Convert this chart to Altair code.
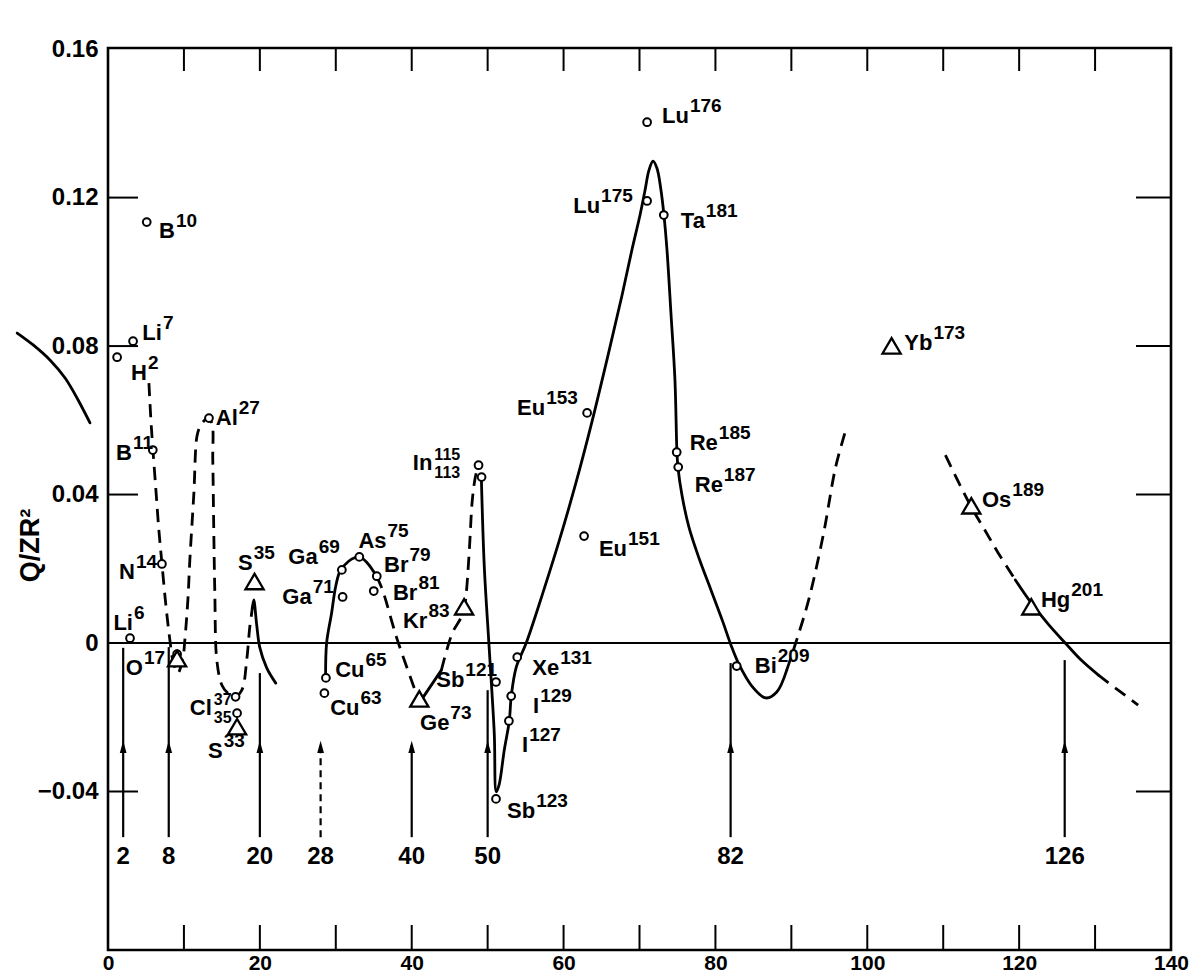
import altair as alt
import pandas as pd

FONT = "Liberation Sans"
W, H = 1063, 902

# ---------------- data ----------------
# open circles (measured nuclei)
circ_x = [1.2, 2.9, 3.3, 5.1, 5.9, 7.1, 9.1, 13.3, 16.8, 17.0, 28.7, 28.5, 30.8, 30.9, 33.1, 35.4, 35.0,
          48.8, 49.2, 51.1, 51.1, 52.8, 53.1, 53.9, 62.7, 63.1, 71.0, 71.0, 73.2, 74.9, 75.1, 82.8]
circ_y = [0.0770, 0.0013, 0.0813, 0.1134, 0.0520, 0.0213, -0.0030, 0.0606, -0.0145, -0.0189, -0.0094,
          -0.0135, 0.0197, 0.0124, 0.0232, 0.0180, 0.0140, 0.0479, 0.0447, -0.0105, -0.0420, -0.0210,
          -0.0143, -0.0038, 0.0288, 0.0620, 0.1191, 0.1403, 0.1153, 0.0514, 0.0474, -0.0062]

# open triangles
tri_x = [9.1, 17.0, 19.3, 41.0, 46.9, 103.2, 113.7, 121.6]
tri_y = [-0.0046, -0.0229, 0.0162, -0.0154, 0.0094, 0.0797, 0.0366, 0.0094]

# solid curve pieces
L_x = [-11.96, -9.86, -7.62, -5.65, -4.08, -2.37]
L_y = [0.0835, 0.0803, 0.0762, 0.0714, 0.0660, 0.0593]
C_x = [18.93, 19.19, 19.59, 19.98, 20.90, 22.09]
C_y = [0.0081, 0.0116, 0.0048, -0.0011, -0.0067, -0.0108]
D1_x = [28.66, 28.79, 29.45, 29.97, 30.50, 31.15, 32.08, 33.13, 34.18, 35.36]
D1_y = [-0.0092, 0.0, 0.0081, 0.0151, 0.0191, 0.0210, 0.0226, 0.0232, 0.0215, 0.0180]
D3_x = [41.54, 43.91]
D3_y = [-0.0145, -0.0073]
E_x = [49.17, 49.56, 50.22, 50.87, 51.14, 51.53, 52.19, 52.85, 53.11, 53.77, 55.08, 57.18, 59.42,
       61.66, 63.76, 65.99, 67.70, 69.02, 70.07, 70.73, 71.25, 71.78, 72.30, 72.83, 73.22, 73.62,
       74.14, 74.67, 74.93, 75.06, 75.59, 76.51, 77.83, 79.41, 80.98, 82.04, 83.09, 84.80, 86.63,
       88.08, 89.39]
E_y = [0.0447, 0.0205, -0.0019, -0.0242, -0.0401, -0.0380, -0.0288, -0.0210, -0.0143, -0.0065, 0.0,
       0.0129, 0.0275, 0.0434, 0.0598, 0.0787, 0.0937, 0.1061, 0.1153, 0.1220, 0.1274, 0.1298, 0.1279,
       0.1220, 0.1153, 0.1059, 0.0889, 0.0708, 0.0514, 0.0474, 0.0399, 0.0312, 0.0229, 0.0143, 0.0057,
       -0.0005, -0.0057, -0.0116, -0.0148, -0.0132, -0.0073]
F2_x = [119.5, 121.6, 123.83, 126.07, 128.17, 130.41]
F2_y = [0.0170, 0.0108, 0.0051, 0.0, -0.0046, -0.0086]

# dashed curve pieces
B_x = [5.39, 5.65, 5.92, 6.31, 6.70, 7.10, 7.62, 8.15, 8.54, 9.20, 9.86, 10.12, 10.52, 10.78, 11.31,
       11.70, 12.09, 12.62, 13.15, 13.67, 13.80, 13.93, 14.07, 14.33, 14.99, 15.78, 16.70, 17.62, 18.27,
       18.67, 18.93]
B_y = [0.0700, 0.0601, 0.0520, 0.0412, 0.0304, 0.0215, 0.0102, 0.0008, -0.0046, -0.0081, -0.0040,
       0.0008, 0.0116, 0.0224, 0.0404, 0.0555, 0.0582, 0.0598, 0.0606, 0.0593, 0.0493, 0.0304, 0.0135,
       -0.0046, -0.0113, -0.0135, -0.0145, -0.0127, -0.0046, 0.0043, 0.0081]
D2_x = [35.36, 36.15, 37.99, 39.96, 40.75]
D2_y = [0.0180, 0.0143, 0.0016, -0.0100, -0.0145]
D4_x = [43.91, 45.35, 46.54, 46.93, 47.19, 47.59, 47.98, 48.38, 48.77]
D4_y = [-0.0073, 0.0027, 0.0070, 0.0094, 0.0135, 0.0251, 0.0385, 0.0447, 0.0479]
E2_x = [89.39, 90.57, 92.28, 94.25, 95.83, 97.28]
E2_y = [-0.0073, 0.0, 0.0116, 0.0296, 0.0474, 0.0582]
F1_x = [110.29, 112.0, 113.71, 115.55, 117.26, 119.5]
F1_y = [0.0506, 0.0434, 0.0366, 0.0302, 0.0242, 0.0170]
F3_x = [130.41, 133.04, 135.67]
F3_y = [-0.0086, -0.0127, -0.0167]

# magic numbers (arrows)
magic = [2, 8, 20, 28, 40, 50, 82, 126]
magic_top = [-0.0013, -0.0011, -0.0081, -0.0275, -0.0275, -0.0127, -0.0054, -0.0046]
magic_dashed = [False, False, False, True, False, False, False, False]
arrow_bottom = -0.0523
arrow_head_y = -0.028
magic_label_y = -0.0576

# isotope labels: junction between symbol and mass number
lab_x = [8.81, 7.10, 5.13, 3.16, 3.55, 3.29, 4.60, 17.09, 19.06, 15.12, 33.78, 33.13, 27.61, 26.82,
         36.68, 39.57, 40.75, 42.07, 44.96, 46.93, 56.26, 55.34, 56.79, 59.42, 68.36, 57.58, 76.51,
         64.81, 78.61, 80.32, 80.98, 88.08, 108.58, 118.97, 126.73]
lab_y = [0.1091, 0.0816, 0.0708, 0.0493, 0.0172, 0.0035, -0.0086, 0.0587, 0.0197, -0.0310, -0.0092,
         -0.0194, 0.0213, 0.0105, 0.0256, 0.0191, 0.0116, 0.0040, -0.0234, -0.0119, -0.0471, -0.0294,
         -0.0188, -0.0086, 0.0234, 0.0614, 0.1401, 0.1158, 0.1118, 0.0520, 0.0407, -0.0081, 0.0789,
         0.0366, 0.0097]
lab_base = ["B", "Li", "H", "B", "N", "Li", "O", "Al", "S", "S", "Cu", "Cu", "Ga", "Ga", "As", "Br", "Br",
            "Kr", "Ge", "Sb", "Sb", "I", "I", "Xe", "Eu", "Eu", "Lu", "Lu", "Ta", "Re", "Re", "Bi", "Yb",
            "Os", "Hg"]
lab_sup = ["10", "7", "2", "11", "14", "6", "17", "27", "35", "33", "65", "63", "69", "71", "75", "79",
           "81", "83", "73", "121", "123", "127", "129", "131", "151", "153", "176", "175", "181", "185",
           "187", "209", "173", "189", "201"]

# labels with both a superscript and a subscript
stk_x = [13.67, 42.72]
stk_y = [-0.0194, 0.0466]
stk_base = ["Cl", "In"]
stk_sup = ["37", "115"]
stk_sub = ["35", "113"]

x_tick_vals = [10, 20, 30, 40, 50, 60, 70, 80, 90, 100, 110, 120, 130]
y_tick_vals = [0.12, 0.08, 0.04, -0.04]
x_label_vals = [0, 20, 40, 60, 80, 100, 120, 140]
y_label_vals = [0.16, 0.12, 0.08, 0.04, 0, -0.04]

# ---------------- tables ----------------
def seg(name, xs, ys):
    return pd.DataFrame({"x": xs, "y": ys, "seg": name, "i": list(range(len(xs)))})

solid_df = pd.concat([seg("L", L_x, L_y), seg("C", C_x, C_y), seg("D1", D1_x, D1_y),
                      seg("D3", D3_x, D3_y), seg("E", E_x, E_y), seg("F2", F2_x, F2_y)])
dashed_df = pd.concat([seg("B", B_x, B_y), seg("D2", D2_x, D2_y), seg("D4", D4_x, D4_y),
                       seg("E2", E2_x, E2_y), seg("F1", F1_x, F1_y), seg("F3", F3_x, F3_y)])
circ_df = pd.DataFrame({"x": circ_x, "y": circ_y})
tri_df = pd.DataFrame({"x": tri_x, "y": tri_y})
arrow_df = pd.DataFrame({"x": magic, "top": magic_top, "bot": arrow_bottom, "head": arrow_head_y,
                         "lab": [str(m) for m in magic], "laby": magic_label_y, "dashed": magic_dashed})
lab_df = pd.DataFrame({"x": lab_x, "y": lab_y, "base": lab_base, "sup": lab_sup})
stk_df = pd.DataFrame({"x": stk_x, "y": stk_y, "base": stk_base, "sup": stk_sup, "sub": stk_sub})
xt_df = pd.DataFrame({"x": x_tick_vals})
yt_df = pd.DataFrame({"y": y_tick_vals})
zero_df = pd.DataFrame({"y": [0.0]})

# ---------------- scales & axes ----------------
xscale = alt.Scale(domain=[0, 140], nice=False, zero=False)
yscale = alt.Scale(domain=[-0.0827, 0.1603], nice=False, zero=False)
xaxis = alt.Axis(values=x_label_vals, ticks=False, domain=False, grid=False, labelFont=FONT,
                 labelFontSize=21, labelFontWeight="bold", labelColor="black", labelPadding=2,
                 labelFlush=False, labelOverlap=False, title=None)
yaxis = alt.Axis(values=y_label_vals, ticks=False, domain=False, grid=False, labelFont=FONT,
                 labelFontSize=24, labelFontWeight="bold", labelColor="black", labelPadding=10,
                 labelFlush=False, labelOverlap=False,
                 labelExpr="datum.value == 0 ? '0' : format(datum.value, '.2f')",
                 title="Q/ZR²", titleAngle=270, titleX=-78, titleY=497, titleFont=FONT,
                 titleFontSize=27, titleFontWeight="bold", titleColor="black", titleAlign="center",
                 titleBaseline="middle")


def X(f="x"):
    return alt.X(f"{f}:Q", scale=xscale, axis=xaxis)


def Y(f="y"):
    return alt.Y(f"{f}:Q", scale=yscale, axis=yaxis)


zero_line = alt.Chart(zero_df).mark_rule(color="black", strokeWidth=2).encode(
    x=alt.value(0), x2=alt.value(W), y=Y())

solid_lines = alt.Chart(solid_df).mark_line(interpolate="catmull-rom", color="black", strokeWidth=2.8,
                                            strokeCap="round").encode(
    x=X(), y=Y(), detail="seg:N", order="i:Q")
dashed_lines = alt.Chart(dashed_df).mark_line(interpolate="catmull-rom", color="black", strokeWidth=2.8,
                                              strokeDash=[13, 8]).encode(
    x=X(), y=Y(), detail="seg:N", order="i:Q")

arrows_solid = alt.Chart(arrow_df).transform_filter("!datum.dashed").mark_rule(
    color="black", strokeWidth=2.2).encode(x=X(), y=Y("bot"), y2="top:Q")
arrows_dashed = alt.Chart(arrow_df).transform_filter("datum.dashed").mark_rule(
    color="black", strokeWidth=2.2, strokeDash=[7, 5]).encode(x=X(), y=Y("bot"), y2="top:Q")
arrow_heads = alt.Chart(arrow_df).mark_point(shape="M0,-1L0.55,1L-0.55,1Z", size=150, filled=True,
                                             color="black", opacity=1, strokeWidth=0).encode(
    x=X(), y=Y("head"))
arrow_labels = alt.Chart(arrow_df).mark_text(font=FONT, fontSize=24, fontWeight="bold", color="black",
                                             align="center", baseline="middle").encode(
    x=X(), y=Y("laby"), text="lab:N")

circles = alt.Chart(circ_df).mark_point(shape="circle", size=60, filled=True, fill="white",
                                        stroke="black", strokeWidth=2, opacity=1).encode(x=X(), y=Y())
triangles = alt.Chart(tri_df).mark_point(shape="M-1,0.7L0,-1L1,0.7Z", size=330, filled=True,
                                         fill="white", stroke="black", strokeWidth=2.3,
                                         opacity=1).encode(x=X(), y=Y())

base_txt = alt.Chart(lab_df).mark_text(font=FONT, fontSize=22, fontWeight="bold", color="black",
                                       align="right", baseline="alphabetic").encode(
    x=X(), y=Y(), text="base:N")
sup_txt = alt.Chart(lab_df).mark_text(font=FONT, fontSize=19, fontWeight="bold", color="black",
                                      align="left", baseline="alphabetic", dx=1, dy=-11).encode(
    x=X(), y=Y(), text="sup:N")
stk_base_txt = alt.Chart(stk_df).mark_text(font=FONT, fontSize=22, fontWeight="bold", color="black",
                                           align="right", baseline="alphabetic").encode(
    x=X(), y=Y(), text="base:N")
stk_sup_txt = alt.Chart(stk_df).mark_text(font=FONT, fontSize=16, fontWeight="bold", color="black",
                                          align="left", baseline="alphabetic", dx=2, dy=-10).encode(
    x=X(), y=Y(), text="sup:N")
stk_sub_txt = alt.Chart(stk_df).mark_text(font=FONT, fontSize=16, fontWeight="bold", color="black",
                                          align="left", baseline="alphabetic", dx=2, dy=8).encode(
    x=X(), y=Y(), text="sub:N")

# inward frame ticks
left_ticks = alt.Chart(yt_df).mark_rule(color="black", strokeWidth=2).encode(
    x=alt.value(0), x2=alt.value(30), y=Y())
right_ticks = alt.Chart(yt_df).mark_rule(color="black", strokeWidth=2).encode(
    x=alt.value(W - 35), x2=alt.value(W), y=Y())
top_ticks = alt.Chart(xt_df).mark_rule(color="black", strokeWidth=2).encode(
    x=X(), y=alt.value(0), y2=alt.value(23))
bottom_ticks = alt.Chart(xt_df).mark_rule(color="black", strokeWidth=2).encode(
    x=X(), y=alt.value(H - 25), y2=alt.value(H))

chart = alt.layer(
    zero_line, left_ticks, right_ticks, top_ticks, bottom_ticks,
    arrows_solid, arrows_dashed, arrow_heads, arrow_labels,
    solid_lines, dashed_lines, circles, triangles,
    base_txt, sup_txt, stk_base_txt, stk_sup_txt, stk_sub_txt,
).properties(
    width=W, height=H,
    autosize=alt.AutoSizeParams(type="none"),
    padding={"left": 100, "top": 40, "right": 18, "bottom": 27},
    background="white",
).configure_view(stroke="black", strokeWidth=2.6)

chart.save("out.html", embed_options={"renderer": "svg", "actions": False})
